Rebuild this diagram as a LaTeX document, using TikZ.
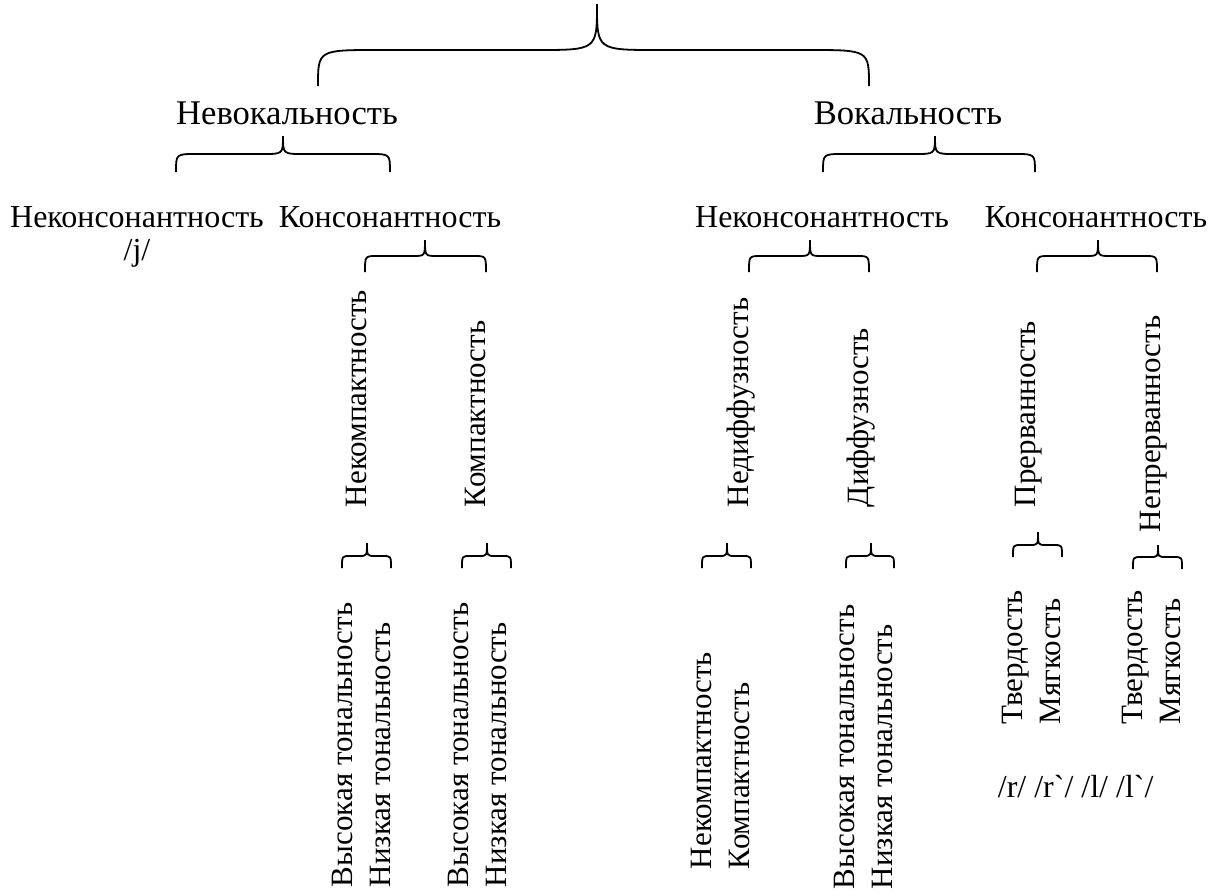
\documentclass[tikz,border=0pt]{standalone}
\usepackage{fontspec}
\setmainfont{Liberation Serif}
\usepackage{tikz}
\usetikzlibrary{positioning}

% brace: left x, tip x, right x, tip y, bar y, end y, corner
\newcommand{\brc}[7]{%
  \draw (#1,#6) .. controls (#1,#5) .. ({#1+#7},#5) -- ({#2-#7},#5)
        .. controls (#2,#5) .. (#2,#4)
        .. controls (#2,#5) .. ({#2+#7},#5) -- ({#3-#7},#5)
        .. controls (#3,#5) .. (#3,#6);}

\begin{document}
\begin{tikzpicture}[x=0.5pt,y=-0.5pt,line width=0.9pt,
    big/.style={inner sep=0pt,anchor=base,font=\fontsize{17.3}{20}\selectfont},
    lbl/.style={inner sep=0pt,anchor=base,font=\fontsize{16}{19}\selectfont},
    vert/.style={inner sep=0pt,rotate=90,anchor=west,align=left,
                 font=\fontsize{15.5}{19}\selectfont}]
   \useasboundingbox (0,0) rectangle (1223,895);

   % level 1
   \node[big] (nevok) at (287,124) {Невокальность};
   \node[big] (vok)   at (908,124) {Вокальность};
   \brc{318}{597}{869}{4}{50}{86}{60}

   % level 2
   \node[lbl] (nekons1) at (137,227) {Неконсонантность};
   \node[lbl] (jj)      at (137,260) {/j/};
   \node[lbl] (kons1)   at (390,227) {Консонантность};
   \node[lbl] (nekons2) at (822,227) {Неконсонантность};
   \node[lbl] (kons2)   at (1096,227) {Консонантность};
   \brc{176}{283}{390}{136}{154}{172}{20}
   \brc{823}{935}{1035}{136}{154}{172}{20}

   % level 3
   \brc{365}{425}{486}{240}{256}{272}{12}
   \brc{749}{810}{869}{240}{256}{272}{12}
   \brc{1037}{1098}{1157}{240}{256}{272}{12}
   \node[vert] (nekomp1) at (356,508) {Некомпактность};
   \node[vert] (komp1)   at (475,508) {Компактность};
   \node[vert] (nediff)  at (741,508) {Недиффузность};
   \node[vert] (diff)    at (861,508) {Диффузность};
   \node[vert] (prerv)   at (1029,508) {Прерванность};
   \node[vert] (neprerv) at (1154,533) {Непрерванность};

   % level 4
   \brc{342}{367}{391}{543}{556}{568}{8}
   \brc{462}{487}{511}{543}{556}{568}{8}
   \brc{702}{727}{751}{543}{556}{568}{8}
   \brc{846}{871}{894}{543}{556}{568}{8}
   \brc{1013}{1038}{1062}{532}{545}{557}{8}
   \brc{1133}{1158}{1182}{545}{557}{569}{8}
   \node[vert] (ton1)  at (361,888) {Высокая тональность\\Низкая тональность};
   \node[vert] (ton2)  at (477,888) {Высокая тональность\\Низкая тональность};
   \node[vert] (komp2) at (720,870) {Некомпактность\\Компактность};
   \node[vert] (ton3)  at (863,890) {Высокая тональность\\Низкая тональность};
   \node[vert] (tm1)   at (1031,725) {Твердость\\Мягкость};
   \node[vert] (tm2)   at (1151,725) {Твердость\\Мягкость};
   \node[lbl,anchor=base west] (rl) at (997,797)
        {/r/ /r\textasciigrave/ /l/ /l\textasciigrave/};
\end{tikzpicture}
\end{document}
